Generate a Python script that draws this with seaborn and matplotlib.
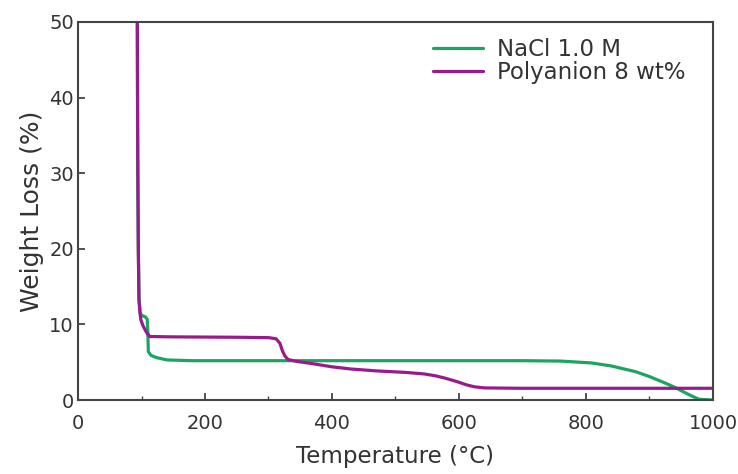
import matplotlib
matplotlib.use("Agg")
import matplotlib.pyplot as plt
import seaborn as sns
import pandas as pd
from matplotlib.ticker import MultipleLocator

# Data
nacl_temp = [93.4, 94, 95, 96, 98, 100, 106, 109, 110, 110.7, 115, 124, 140, 180, 300, 400, 500,
             600, 700, 760, 809, 840, 878, 900, 926, 943, 953, 966, 978, 1000]
nacl_loss = [50, 30, 20, 13.5, 11.6, 11.2, 11.0, 10.7, 9.0, 6.4, 5.9, 5.6, 5.3, 5.2, 5.2, 5.2, 5.2,
             5.2, 5.2, 5.15, 4.9, 4.5, 3.75, 3.1, 2.2, 1.55, 1.1, 0.55, 0.1, 0.0]

poly_temp = [93.4, 94, 95, 96, 97.5, 99, 102, 105.5, 109, 113, 150, 250, 300, 312, 318, 322, 326,
             331, 345, 370, 399, 430, 470, 516, 545, 563, 580, 598, 612, 624, 640, 700, 1000]
poly_loss = [50, 35, 20, 13.2, 11.6, 10.6, 9.9, 9.3, 8.8, 8.4, 8.35, 8.3, 8.25, 8.1, 7.5, 6.5, 5.8,
             5.35, 5.1, 4.8, 4.4, 4.1, 3.85, 3.65, 3.45, 3.2, 2.85, 2.4, 2.0, 1.75, 1.6, 1.55, 1.55]

series_names = ["NaCl 1.0 M", "Polyanion 8 wt%"]
colors = ["#1ea462", "#9a1a8c"]

df = pd.concat([
    pd.DataFrame({"Temperature": nacl_temp, "Loss": nacl_loss, "Sample": series_names[0]}),
    pd.DataFrame({"Temperature": poly_temp, "Loss": poly_loss, "Sample": series_names[1]}),
])

sns.set_theme(style="white")
plt.rcParams["font.family"] = ["DejaVu Sans"]
text_color = "#333333"

fig = plt.figure(figsize=(7.38, 4.74), dpi=100)
ax = fig.add_axes([0.1057, 0.1561, 0.8604, 0.7975])

sns.lineplot(data=df, x="Temperature", y="Loss", hue="Sample", palette=colors,
             sort=False, estimator=None, linewidth=2.3, ax=ax)

ax.set_xlim(0, 1000)
ax.set_ylim(0, 50)
ax.xaxis.set_major_locator(MultipleLocator(200))
ax.xaxis.set_minor_locator(MultipleLocator(100))
ax.yaxis.set_major_locator(MultipleLocator(10))
ax.tick_params(axis="both", which="major", direction="in", length=5, width=1.3,
               labelsize=14, colors="#444444", labelcolor=text_color, pad=3)
ax.tick_params(axis="x", which="major", pad=10)
ax.tick_params(axis="x", which="minor", direction="in", length=3, width=1.0, colors="#444444")
ax.tick_params(left=True, bottom=True, which="both")

for s in ax.spines.values():
    s.set_color("#444444")
    s.set_linewidth(1.5)

ax.set_xlabel("Temperature (°C)", fontsize=16.5, color=text_color, labelpad=9)
ax.set_ylabel("Weight Loss (%)", fontsize=18, color=text_color, labelpad=4)

leg = ax.legend(loc="upper left", frameon=False, fontsize=16.5, handlelength=2.2,
                handletextpad=0.6, labelspacing=0.0, borderpad=0, borderaxespad=0,
                bbox_to_anchor=(0.559, 0.958))
for line in leg.get_lines():
    line.set_linewidth(2.3)
for t in leg.get_texts():
    t.set_color(text_color)

fig.savefig("out.png", dpi=100, facecolor="white")
